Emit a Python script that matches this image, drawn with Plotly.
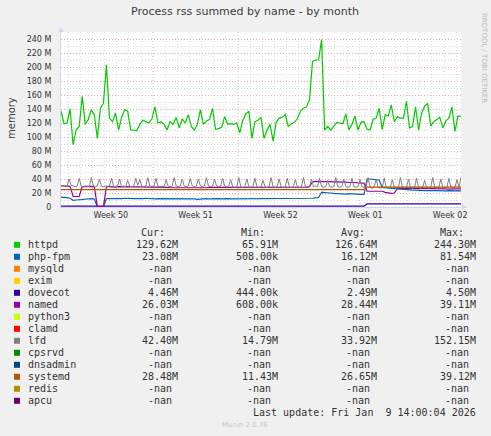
import pandas as pd
import plotly.graph_objects as go

# munin "by month" view: 33 days, values in MB
start = "2025-12-07 09:30"
end = "2026-01-09 09:30"

names = ["httpd", "php-fpm", "mysqld", "exim", "dovecot", "named", "python3",
         "clamd", "lfd", "cpsrvd", "dnsadmin", "systemd", "redis", "apcu"]
colors = ["#00CC00", "#0066B3", "#FF8000", "#FFCC00", "#330099", "#990099", "#CCFF00",
          "#FF0000", "#808080", "#008F00", "#00487D", "#B35A00", "#B38F00", "#6B006B"]

cur = ["129.62M", "23.08M", "-nan", "-nan", "4.46M", "26.03M", "-nan",
       "-nan", "42.40M", "-nan", "-nan", "28.48M", "-nan", "-nan"]
mins = ["65.91M", "508.00k", "-nan", "-nan", "444.00k", "608.00k", "-nan",
        "-nan", "14.79M", "-nan", "-nan", "11.43M", "-nan", "-nan"]
avgs = ["126.64M", "16.12M", "-nan", "-nan", "2.49M", "28.44M", "-nan",
        "-nan", "33.92M", "-nan", "-nan", "26.65M", "-nan", "-nan"]
maxs = ["244.30M", "81.54M", "-nan", "-nan", "4.50M", "39.11M", "-nan",
        "-nan", "152.15M", "-nan", "-nan", "39.12M", "-nan", "-nan"]

week_mondays = ["2025-12-08", "2025-12-15", "2025-12-22", "2025-12-29", "2026-01-05"]
week_mids = ["2025-12-11 12:00", "2025-12-18 12:00", "2025-12-25 12:00",
             "2026-01-01 12:00", "2026-01-08 12:00"]
week_labels = ["Week 50", "Week 51", "Week 52", "Week 01", "Week 02"]

y_ticks = [0, 20, 40, 60, 80, 100, 120, 140, 160, 180, 200, 220, 240]
y_labels = ["0", "20 M", "40 M", "60 M", "80 M", "100 M", "120 M", "140 M",
            "160 M", "180 M", "200 M", "220 M", "240 M"]

# 6-hourly samples
httpd = [137, 119, 120, 140, 89, 110, 115, 158, 118, 125,
         139, 132, 98, 141, 148, 203, 127, 122, 134, 110,
         128, 139, 137, 110, 110, 109, 118, 124, 122, 120,
         126, 143, 120, 122, 118, 110, 122, 118, 128, 113,
         126, 120, 132, 115, 110, 118, 139, 118, 123, 125,
         141, 111, 112, 114, 129, 118, 119, 118, 120, 106,
         124, 133, 137, 98, 122, 124, 128, 98, 110, 118,
         94, 121, 127, 128, 132, 115, 119, 121, 126, 137,
         141, 143, 153, 208, 210, 210, 239, 110, 115, 110,
         115, 121, 120, 119, 133, 110, 118, 130, 110, 121,
         122, 111, 110, 125, 127, 141, 111, 132, 130, 146,
         122, 129, 127, 127, 151, 113, 115, 143, 110, 134,
         144, 148, 116, 122, 125, 128, 113, 123, 127, 143,
         108, 130, 129.6]

php_fpm = [14, 14, 13.5, 12.5, 9.5, 10, 10.5, 11.5, 12, 11.5,
           12, 11.5, 0.5, 0.5, 0.5, 12, 11.5, 12, 12, 11.5,
           12, 12.5, 12, 11.5, 12, 12, 11.5, 12, 12.5, 12,
           12, 11.5, 12, 12, 12.5, 12, 11.5, 12, 12, 12.5,
           12, 11.5, 12, 12, 11.5, 11, 11.5, 12, 12, 11.5,
           12, 12.5, 12, 11.5, 12, 12, 11.5, 11.5, 12, 12,
           11.5, 12, 12, 11.5, 11.5, 12, 12, 11.5, 12, 12,
           11.5, 12, 12, 11.5, 11.5, 12, 11.5, 12, 12, 11.5,
           11.5, 12, 12, 12.5, 13, 13.5, 21, 21, 20.5, 20,
           19.5, 19, 19, 18.5, 18.5, 19, 18.5, 18, 18.5, 18,
           18, 40, 40, 39.5, 39, 38.5, 28, 27.5, 27.5, 27,
           27, 26.5, 25, 24.5, 24.5, 24, 24, 24, 23.5, 24,
           23.5, 23.5, 24, 23.5, 23.5, 23, 23.5, 23, 23.5, 23,
           23, 23.5, 23.08]

dovecot = [1.2, 1.2, 1.2, 1.2, 1.2, 1.2, 1.2, 1.2, 1.2, 1.2,
           1.2, 1.2, 0.5, 0.5, 0.5, 1.2, 1.2, 1.2, 1.2, 1.2,
           1.2, 1.2, 1.2, 1.2, 1.2, 1.2, 1.2, 1.2, 1.2, 1.2,
           1.2, 1.2, 1.2, 1.2, 1.2, 1.2, 1.2, 1.2, 1.2, 1.2,
           1.2, 1.2, 1.2, 1.2, 1.2, 1.2, 1.2, 1.2, 1.2, 1.2,
           1.2, 1.2, 1.2, 1.2, 1.2, 1.2, 1.2, 1.2, 1.2, 1.2,
           1.2, 1.2, 1.2, 1.2, 1.2, 1.2, 1.2, 1.2, 1.2, 1.2,
           1.2, 1.2, 1.2, 1.2, 1.2, 1.2, 1.2, 1.2, 1.2, 1.2,
           1.2, 1.2, 1.2, 1.2, 1.2, 1.2, 1.2, 1.2, 1.2, 1.2,
           1.2, 1.2, 1.2, 1.2, 1.2, 1.2, 1.2, 1.2, 1.2, 1.2,
           1.2, 4.4, 4.4, 4.4, 4.4, 4.4, 4.4, 4.4, 4.4, 4.4,
           4.4, 4.4, 4.4, 4.4, 4.4, 4.4, 4.4, 4.4, 4.4, 4.4,
           4.4, 4.4, 4.4, 4.4, 4.4, 4.4, 4.4, 4.4, 4.4, 4.4,
           4.4, 4.4, 4.46]

named = [30.5, 30, 30, 29.5, 15, 14.5, 15, 29, 29.5, 29,
         29.5, 29, 0.6, 0.6, 0.6, 29.5, 29, 29, 28.5, 29,
         29, 28.5, 28.5, 29, 28.5, 28, 28.5, 28.5, 28, 28.5,
         28.5, 28, 28, 28.5, 28, 28, 27.5, 27.5, 27, 27,
         27, 26.5, 26.5, 26.5, 27, 26.5, 27, 27.5, 27.5, 28,
         28, 28.5, 28, 28.5, 28.5, 28.5, 28, 28.5, 28.5, 28,
         28, 28.5, 28, 28, 28.5, 28, 28, 27.5, 28, 28,
         27.5, 27.5, 28, 27.5, 27.5, 28, 28, 27.5, 28, 28,
         28.5, 28.5, 29, 36, 36.5, 36.5, 36, 36.5, 36, 36,
         35.5, 36, 36, 35.5, 35.5, 35, 35.5, 35, 34.5, 34.5,
         34, 22.5, 22.5, 22.5, 22, 22.5, 22.5, 21, 20, 19.5,
         20, 26.5, 27, 27, 26.5, 26.5, 26, 26.5, 26.5, 26,
         26, 26.5, 26, 26, 26.5, 26, 26, 26, 25.5, 26,
         26, 26, 26.03]

systemd = [24.7, 24.7, 24.7, 24.7, 24.7, 24.7, 24.7, 24.7, 24.7, 24.7,
           24.7, 24.7, 24.7, 24.7, 24.7, 24.7, 24.7, 24.7, 24.7, 24.7,
           24.7, 24.7, 24.7, 24.7, 24.7, 24.7, 24.7, 24.7, 24.7, 24.7,
           24.7, 24.7, 24.7, 24.7, 24.7, 24.7, 24.7, 24.7, 24.7, 24.7,
           24.7, 24.7, 24.7, 24.7, 24.7, 24.7, 24.7, 24.7, 24.7, 24.7,
           24.7, 24.7, 24.7, 24.7, 24.7, 24.7, 24.7, 24.7, 24.7, 24.7,
           24.7, 24.7, 24.7, 24.7, 24.7, 24.7, 24.7, 24.7, 24.7, 24.7,
           24.7, 24.7, 24.7, 24.7, 24.7, 24.7, 24.7, 24.7, 24.7, 24.7,
           24.7, 24.7, 24.7, 24.7, 24.7, 24.7, 24.7, 24.7, 24.7, 24.7,
           24.7, 24.7, 24.7, 24.7, 24.7, 24.7, 24.7, 24.7, 24.7, 24.7,
           24.7, 28.4, 28.4, 28.4, 28.4, 28.4, 28.4, 28.4, 28.4, 28.4,
           28.4, 28.4, 28.4, 28.4, 28.4, 28.4, 28.4, 28.4, 28.4, 28.4,
           28.4, 28.4, 28.4, 28.4, 28.4, 28.4, 28.4, 28.4, 28.4, 28.4,
           28.4, 28.4, 28.48]

# 4-hourly samples (lfd spikes are narrower)
lfd = [31, 30, 31, 30, 40, 31, 30, 29, 30, 41,
       30, 29, 30, 30, 29, 42, 30, 29, 30, 40,
       30, 29, 30, 29, 30, 41, 30, 29, 30, 40,
       29, 30, 29, 38, 30, 29, 30, 41, 31, 39,
       30, 29, 30, 42, 30, 29, 30, 41, 30, 29,
       30, 29, 39, 30, 29, 30, 42, 30, 29, 30,
       40, 30, 29, 30, 41, 30, 29, 30, 40, 30,
       29, 30, 42, 30, 29, 30, 40, 30, 29, 30,
       41, 30, 29, 30, 39, 29, 28, 29, 42, 29,
       28, 29, 40, 29, 28, 29, 41, 29, 28, 29,
       38, 29, 28, 29, 42, 29, 28, 29, 40, 29,
       28, 29, 41, 29, 28, 29, 39, 29, 28, 29,
       42, 29, 28, 29, 40, 29, 30, 29, 41, 29,
       28, 29, 38, 29, 28, 29, 42, 29, 28, 29,
       40, 29, 28, 29, 41, 29, 28, 29, 39, 29,
       28, 29, 42, 28, 27, 28, 40, 28, 27, 28,
       41, 28, 27, 28, 39, 28, 27, 28, 42, 28,
       27, 28, 40, 28, 27, 28, 41, 28, 27, 28,
       38, 28, 27, 28, 42, 28, 27, 28, 40, 28,
       27, 28, 41, 28, 27, 28, 39, 28, 42.4]

df6 = pd.DataFrame({"httpd": httpd, "php-fpm": php_fpm, "dovecot": dovecot,
                    "named": named, "systemd": systemd})
df6["t"] = pd.date_range(start, periods=len(df6), freq="6h")
df4 = pd.DataFrame({"lfd": lfd})
df4["t"] = pd.date_range(start, periods=len(df4), freq="4h")

# plot area in pixels: x 61..461, y 32..207
def px(x):
    return (x - 61) / 400


def py(y):
    return (207 - y) / 175


fig = go.Figure()
for name, color in zip(names, colors):
    if name in df6:
        fig.add_trace(go.Scatter(x=df6["t"], y=df6[name], mode="lines", name=name,
                                 line=dict(color=color, width=1.2)))
    elif name in df4:
        fig.add_trace(go.Scatter(x=df4["t"], y=df4[name], mode="lines", name=name,
                                 line=dict(color=color, width=1)))

red = "#F5A8A8"
gray = "#DCDCDC"
dash = "1px,2px"

for d in week_mondays:
    fig.add_shape(type="line", xref="x", yref="paper", x0=d, x1=d, y0=0, y1=1,
                  line=dict(color=red, width=1, dash=dash), layer="between")

fig.update_xaxes(type="date", range=[start, end], tickmode="array",
                 tickvals=week_mids, ticktext=week_labels, showgrid=False,
                 ticks="", zeroline=False, showline=True, linecolor="#CFD6F8",
                 tickfont=dict(family="DejaVu Sans", size=8, color="#333333"),
                 minor=dict(tickmode="linear", tick0="2025-12-08", dtick=86400000,
                            showgrid=True, gridcolor=gray, griddash=dash, ticks=""),
                 fixedrange=True)
fig.update_yaxes(range=[0, 250], tickmode="array", tickvals=y_ticks, ticktext=y_labels,
                 showgrid=True, gridcolor=red, griddash=dash, gridwidth=1,
                 zeroline=False, showline=True, linecolor="#CFD6F8", ticks="",
                 ticklabelstandoff=7,
                 tickfont=dict(family="DejaVu Sans", size=8, color="#333333"),
                 minor=dict(tickmode="linear", tick0=0, dtick=10, showgrid=True,
                            gridcolor=gray, griddash=dash, ticks=""),
                 fixedrange=True)

ann = []
ann.append(dict(text="Process rss summed by name - by month", x=px(245), y=py(11.5),
                font=dict(family="DejaVu Sans", size=11, color="#3c3c3c")))
ann.append(dict(text="memory", x=px(11), y=py(118), textangle=-90,
                font=dict(family="DejaVu Sans", size=10, color="#3c3c3c")))
ann.append(dict(text="RRDTOOL / TOBI OETIKER", x=px(484), y=py(58), textangle=90,
                font=dict(family="DejaVu Sans", size=7, color="#BBBBBB")))
ann.append(dict(text="Munin 2.0.76", x=px(245), y=py(424.5),
                font=dict(family="DejaVu Sans", size=7, color="#C8C8C8")))

mono = dict(family="DejaVu Sans Mono", size=10, color="#333333")
for head, hx in zip(["Cur:", "Min:", "Avg:", "Max:"], [166, 266, 366, 464.5]):
    ann.append(dict(text=head, x=px(hx), y=py(232.3), xanchor="right", font=mono))

col_right = [179, 278.7, 377.7, 476.7]
for k, name in enumerate(names):
    yc = 244.3 + 12 * k
    fig.add_shape(type="rect", xref="paper", yref="paper", x0=px(14), x1=px(20),
                  y0=py(yc - 2.5), y1=py(yc + 3.5), fillcolor=colors[k], line=dict(width=0))
    ann.append(dict(text=name, x=px(26.5), y=py(yc), xanchor="left", font=mono))
    for col, xr in zip([cur, mins, avgs, maxs], col_right):
        val = col[k]
        xpos = xr - 6.5 if val == "-nan" else xr
        ann.append(dict(text=val, x=px(xpos), y=py(yc), xanchor="right", font=mono))

ann.append(dict(text="Last update: Fri Jan\u00a0 9 14:00:04 2026", x=px(476.7), y=py(412.6),
                xanchor="right", font=mono))

for a in ann:
    a.setdefault("xanchor", "center")
    a.update(xref="paper", yref="paper", showarrow=False, yanchor="middle", borderpad=0)

# axis arrows
ann.append(dict(x=px(467), y=py(207), xref="paper", yref="paper", text="", showarrow=True,
                ax=-8, ay=0, arrowhead=2, arrowsize=1, arrowwidth=1, arrowcolor="#CFD6F8"))
ann.append(dict(x=px(61), y=py(27), xref="paper", yref="paper", text="", showarrow=True,
                ax=0, ay=8, arrowhead=2, arrowsize=1, arrowwidth=1, arrowcolor="#CFD6F8"))

fig.update_layout(width=491, height=436, autosize=False,
                  paper_bgcolor="#F0F0F0", plot_bgcolor="#FFFFFF",
                  margin=dict(l=61, r=30, t=32, b=229, pad=0),
                  showlegend=False, annotations=ann, hovermode=False,
                  font=dict(family="DejaVu Sans", size=8, color="#333333"))

# page body has a default 8px margin; drop it so the figure sits at the corner
fig.write_html("out.html", config={"displayModeBar": False},
               post_script="document.body.style.margin='0';document.body.style.background='#F0F0F0';")
